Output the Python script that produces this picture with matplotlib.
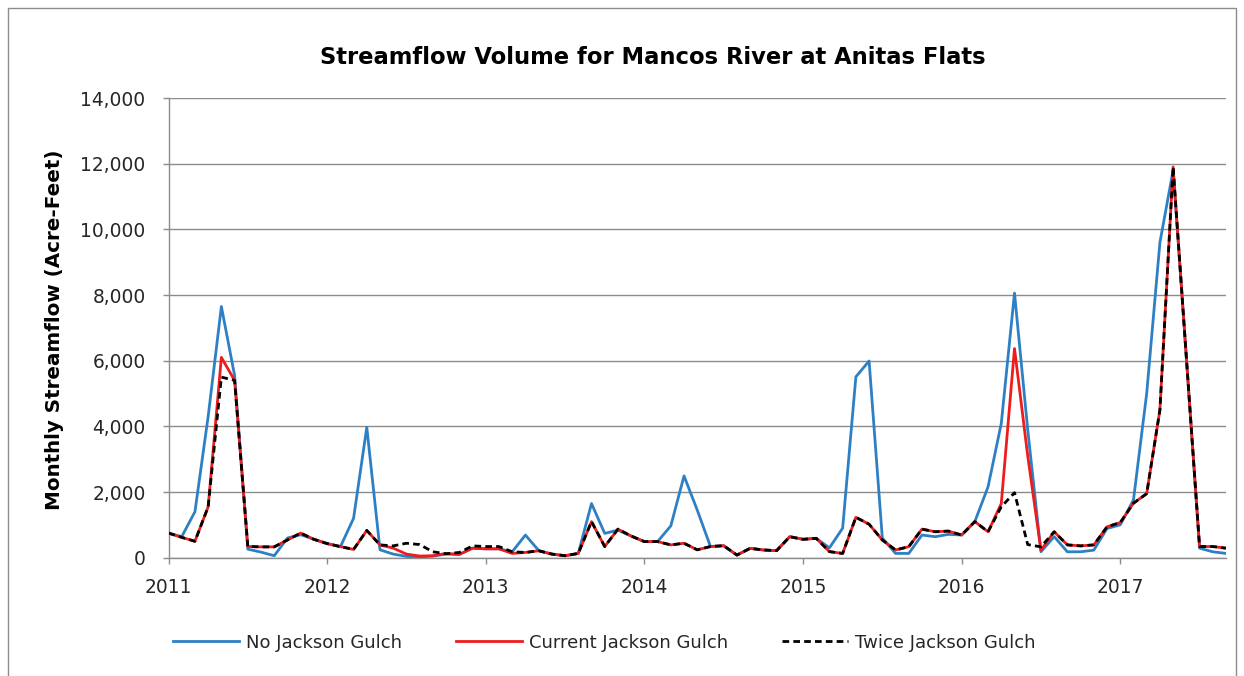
import matplotlib
matplotlib.use("Agg")
import matplotlib.pyplot as plt
from matplotlib.ticker import FuncFormatter
from matplotlib.patches import Rectangle
import numpy as np

# ---------------- data (monthly, Jan 2011 - Sep 2017) ----------------
start_year = 2011
year_ticks = [2011, 2012, 2013, 2014, 2015, 2016, 2017]
y_ticks = [0, 2000, 4000, 6000, 8000, 10000, 12000, 14000]

series_names = ["No Jackson Gulch", "Current Jackson Gulch", "Twice Jackson Gulch"]

no_jackson = [
    750, 640, 1400, 4300, 7650, 5550, 260, 170, 60, 600, 700, 560,          # 2011
    430, 330, 1200, 3970, 240, 110, 40, 20, 50, 110, 100, 290,              # 2012
    270, 270, 180, 690, 220, 110, 60, 130, 1650, 740, 840, 660,             # 2013
    490, 490, 970, 2490, 1450, 340, 365, 80, 285, 235, 215, 640,            # 2014
    560, 590, 300, 900, 5510, 5990, 600, 130, 130, 690, 640, 710,           # 2015
    690, 1100, 2160, 4090, 8060, 3900, 180, 640, 180, 180, 230, 890,        # 2016
    1000, 1760, 5000, 9600, 11800, 6100, 290, 180, 130,                     # 2017
]
current_jackson = [
    750, 620, 500, 1550, 6100, 5400, 340, 330, 330, 540, 750, 560,
    430, 340, 250, 830, 390, 290, 110, 50, 60, 130, 100, 290,
    270, 270, 130, 160, 210, 110, 60, 130, 1100, 340, 870, 660,
    490, 490, 390, 440, 240, 340, 365, 80, 285, 235, 215, 640,
    560, 590, 185, 130, 1230, 1020, 540, 235, 335, 870, 790, 810,
    690, 1100, 790, 1650, 6370, 3100, 230, 790, 390, 360, 390, 940,
    1070, 1660, 1950, 4500, 11900, 6100, 340, 340, 290,
]
twice_jackson = [
    750, 620, 500, 1550, 5500, 5400, 340, 330, 330, 540, 750, 560,
    430, 340, 250, 830, 390, 360, 440, 400, 180, 120, 160, 360,
    340, 340, 180, 160, 210, 110, 60, 130, 1100, 340, 870, 660,
    490, 490, 390, 440, 240, 340, 365, 80, 285, 235, 215, 640,
    560, 590, 185, 130, 1230, 1020, 540, 235, 335, 870, 790, 810,
    690, 1100, 790, 1550, 1980, 400, 330, 790, 390, 360, 390, 940,
    1070, 1660, 1950, 4500, 11900, 6100, 340, 340, 290,
]

title_text = "Streamflow Volume for Mancos River at Anitas Flats"
ylabel_text = "Monthly Streamflow (Acre-Feet)"

# ---------------- figure ----------------
W, H = 1244, 676
DPI = 100
plt.rcParams["font.family"] = ["DejaVu Sans"]
fig = plt.figure(figsize=(W / DPI, H / DPI), dpi=DPI)
fig.patch.set_facecolor("white")

ax_left, ax_right = 168.5, 1226.0
ax_top, ax_bottom = 98.0, 557.7
ax = fig.add_axes([ax_left / W, 1 - ax_bottom / H,
                   (ax_right - ax_left) / W, (ax_bottom - ax_top) / H])

n = len(no_jackson)
x = start_year + np.arange(n) / 12.0

blue = "#2E80C4"
red = "#EE1C1C"
grid_c = "#8C8C8C"
txt_c = "#262626"

l1, = ax.plot(x, no_jackson, color=blue, lw=2.0, solid_joinstyle="round", zorder=3)
l2, = ax.plot(x, current_jackson, color=red, lw=2.0, solid_joinstyle="round", zorder=4)
l3, = ax.plot(x, twice_jackson, color="black", lw=2.0, linestyle=(0, (2.4, 1.5)),
              dash_joinstyle="round", zorder=5)

ax.set_xlim(start_year, start_year + (n - 1) / 12.0)
ax.set_ylim(y_ticks[0], y_ticks[-1])
ax.set_yticks(y_ticks)
ax.set_xticks(year_ticks)
ax.set_xticklabels([str(y) for y in year_ticks])
ax.yaxis.set_major_formatter(FuncFormatter(lambda v, p: f"{int(v):,}"))
ax.grid(axis="y", color=grid_c, lw=1.0, zorder=1)
ax.set_axisbelow(True)
for s in ["top", "right"]:
    ax.spines[s].set_visible(False)
for s in ["left", "bottom"]:
    ax.spines[s].set_color(grid_c)
    ax.spines[s].set_linewidth(1.0)
ax.tick_params(axis="both", direction="out", length=4.5, width=1.0, color=grid_c,
               labelcolor=txt_c)
ax.tick_params(axis="y", pad=12)
ax.tick_params(axis="x", pad=10)

renderer = fig.canvas.get_renderer()


def fit(t, target, dim=0):
    for _ in range(3):
        bb = t.get_window_extent(renderer)
        cur = bb.width if dim == 0 else bb.height
        t.set_fontsize(t.get_fontsize() * target / cur)
    return t.get_fontsize()


# tick label size: "14,000" ~65 px wide
probe = fig.text(0, 0, "14,000", fontsize=12)
tick_fs = fit(probe, 65)
probe.remove()
ax.tick_params(axis="both", labelsize=tick_fs)

# title
title = fig.text(652.5 / W, 1 - 58 / H, title_text, ha="center", va="center",
                 fontweight="bold", color="black", fontsize=16)
fit(title, 665)

# y label
ylab = fig.text(54 / W, 1 - 330 / H, ylabel_text, rotation=90, ha="center",
                va="center", fontweight="bold", color="black", fontsize=14)
fit(ylab, 360, dim=1)

# legend font size: the three labels together ~536 px wide
probe = fig.text(0, 0, "".join(series_names), fontsize=12)
leg_fs = fit(probe, 536)
probe.remove()
em_px = leg_fs * DPI / 72.0
leg = fig.legend([l1, l2, l3], series_names, loc="center",
                 bbox_to_anchor=(604.5 / W, 1 - 642.7 / H), ncol=3, frameon=False,
                 fontsize=leg_fs, handlelength=66 / em_px, handletextpad=7 / em_px,
                 columnspacing=54 / em_px, borderpad=0, borderaxespad=0)
for t in leg.get_texts():
    t.set_color(txt_c)

# outer chart border
fig.add_artist(Rectangle((8 / W, -0.05), (1236 - 8) / W, 1 - 8 / H + 0.05,
                         transform=fig.transFigure, fill=False,
                         edgecolor="#8C8C8C", lw=1.0))

fig.savefig("out.png", dpi=DPI)
